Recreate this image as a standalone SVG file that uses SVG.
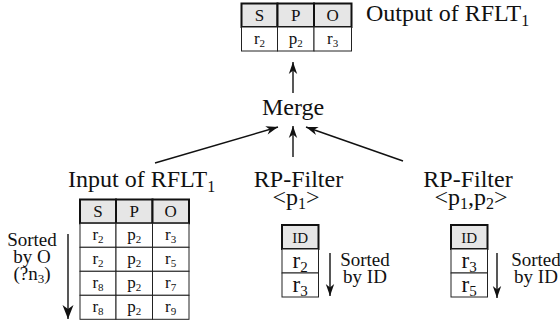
<svg xmlns="http://www.w3.org/2000/svg" width="560" height="327" viewBox="0 0 560 327">
  <style>
    text { font-family: "Liberation Serif", "Times New Roman", serif; fill: #111; }
    .lbl { font-size: 24px; }
    .mid { text-anchor: middle; }
    .cell { font-size: 17px; text-anchor: middle; }
    .big { font-size: 23px; text-anchor: middle; }
    .small { font-size: 15px; text-anchor: middle; }
    .note { font-size: 19px; text-anchor: middle; }
    .hdr { fill: #e6e6e6; stroke: #111; stroke-width: 2; }
    .row { fill: #fff; stroke: #222; stroke-width: 1; }
    .edge { stroke: #111; stroke-width: 1.4; fill: none; }
  </style>
  <defs>
    <marker id="head" viewBox="-13 -5 14 10" refX="0" refY="0" markerWidth="14" markerHeight="10" markerUnits="userSpaceOnUse" orient="auto">
      <path d="M0,0 L-12,-4.2 L-8.5,0 L-12,4.2 Z" fill="#111"/>
    </marker>
    <marker id="headBig" viewBox="-15 -6 16 12" refX="0" refY="0" markerWidth="16" markerHeight="12" markerUnits="userSpaceOnUse" orient="auto">
      <path d="M0,0 L-14,-5.5 L-10,0 L-14,5.5 Z" fill="#111"/>
    </marker>
  </defs>

  <!-- merged output triples -->
  <g id="output">
    <rect class="hdr" x="241.5" y="3.5" width="36" height="23.5"/>
    <rect class="hdr" x="277.5" y="3.5" width="36.5" height="23.5"/>
    <rect class="hdr" x="314" y="3.5" width="37.5" height="23.5"/>
    <rect class="row" x="241.5" y="27" width="36" height="24"/>
    <rect class="row" x="277.5" y="27" width="36.5" height="24"/>
    <rect class="row" x="314" y="27" width="37.5" height="24"/>
    <text class="cell" x="259.5" y="21">S</text>
    <text class="cell" x="295.7" y="21">P</text>
    <text class="cell" x="332.7" y="21">O</text>
    <text class="cell" x="259.5" y="44">r<tspan font-size="11" dy="3">2</tspan></text>
    <text class="cell" x="295.7" y="44">p<tspan font-size="11" dy="3">2</tspan></text>
    <text class="cell" x="332.7" y="44">r<tspan font-size="11" dy="3">3</tspan></text>
    <text class="lbl" x="366" y="21">Output of RFLT<tspan font-size="16" dy="5">1</tspan></text>
  </g>

  <g id="merge">
    <text class="lbl mid" x="293" y="115">Merge</text>
  </g>

  <!-- input triples, sorted by object -->
  <g id="input">
    <text class="lbl" x="68" y="187">Input of RFLT<tspan font-size="16" dy="5">1</tspan></text>
    <rect class="hdr" x="80" y="199.5" width="36" height="23.8"/>
    <rect class="hdr" x="116" y="199.5" width="36.5" height="23.8"/>
    <rect class="hdr" x="152.5" y="199.5" width="36.5" height="23.8"/>
    <g>
      <rect class="row" x="80" y="223.3" width="36" height="24"/>
      <rect class="row" x="116" y="223.3" width="36.5" height="24"/>
      <rect class="row" x="152.5" y="223.3" width="36.5" height="24"/>
      <rect class="row" x="80" y="247.3" width="36" height="24"/>
      <rect class="row" x="116" y="247.3" width="36.5" height="24"/>
      <rect class="row" x="152.5" y="247.3" width="36.5" height="24"/>
      <rect class="row" x="80" y="271.3" width="36" height="24"/>
      <rect class="row" x="116" y="271.3" width="36.5" height="24"/>
      <rect class="row" x="152.5" y="271.3" width="36.5" height="24"/>
      <rect class="row" x="80" y="295.3" width="36" height="24"/>
      <rect class="row" x="116" y="295.3" width="36.5" height="24"/>
      <rect class="row" x="152.5" y="295.3" width="36.5" height="24"/>
    </g>
    <text class="cell" x="98" y="217">S</text>
    <text class="cell" x="134.2" y="217">P</text>
    <text class="cell" x="170.7" y="217">O</text>
    <text class="cell" x="98" y="240">r<tspan font-size="11" dy="3">2</tspan></text>
    <text class="cell" x="134.2" y="240">p<tspan font-size="11" dy="3">2</tspan></text>
    <text class="cell" x="170.7" y="240">r<tspan font-size="11" dy="3">3</tspan></text>
    <text class="cell" x="98" y="264">r<tspan font-size="11" dy="3">2</tspan></text>
    <text class="cell" x="134.2" y="264">p<tspan font-size="11" dy="3">2</tspan></text>
    <text class="cell" x="170.7" y="264">r<tspan font-size="11" dy="3">5</tspan></text>
    <text class="cell" x="98" y="288">r<tspan font-size="11" dy="3">8</tspan></text>
    <text class="cell" x="134.2" y="288">p<tspan font-size="11" dy="3">2</tspan></text>
    <text class="cell" x="170.7" y="288">r<tspan font-size="11" dy="3">7</tspan></text>
    <text class="cell" x="98" y="312">r<tspan font-size="11" dy="3">8</tspan></text>
    <text class="cell" x="134.2" y="312">p<tspan font-size="11" dy="3">2</tspan></text>
    <text class="cell" x="170.7" y="312">r<tspan font-size="11" dy="3">9</tspan></text>
    <text class="note" x="32" y="246">Sorted</text>
    <text class="note" x="32" y="263">by O</text>
    <text class="note" x="32" y="280">(?n<tspan font-size="13" dy="3">3</tspan><tspan dy="-3">)</tspan></text>
    <line class="edge" x1="68" y1="234" x2="68" y2="319" stroke-width="1.6" marker-end="url(#headBig)"/>
  </g>

  <!-- filter on p1 -->
  <g id="filter1">
    <text class="lbl mid" x="298.5" y="187">RP-Filter</text>
    <text class="lbl mid" x="296" y="205">&lt;p<tspan font-size="16" dy="4">1</tspan><tspan dy="-4">&gt;</tspan></text>
    <rect class="hdr" x="282" y="225" width="36.5" height="24"/>
    <rect class="row" x="282" y="249" width="36.5" height="24" stroke-width="2"/>
    <rect class="row" x="282" y="273" width="36.5" height="24" stroke-width="2"/>
    <text class="small" x="300.2" y="243">ID</text>
    <text class="big" x="300.2" y="268">r<tspan font-size="15" dy="4">2</tspan></text>
    <text class="big" x="300.2" y="292">r<tspan font-size="15" dy="4">3</tspan></text>
    <line class="edge" x1="330" y1="253" x2="330" y2="296" marker-end="url(#head)"/>
    <text class="note" x="365" y="266">Sorted</text>
    <text class="note" x="365" y="283">by ID</text>
  </g>

  <!-- filter on p1,p2 -->
  <g id="filter2">
    <text class="lbl mid" x="468" y="187">RP-Filter</text>
    <text class="lbl mid" x="471" y="205">&lt;p<tspan font-size="16" dy="4">1</tspan><tspan dy="-4">,p</tspan><tspan font-size="16" dy="4">2</tspan><tspan dy="-4">&gt;</tspan></text>
    <rect class="hdr" x="451" y="225" width="36.5" height="24"/>
    <rect class="row" x="451" y="249" width="36.5" height="24" stroke-width="2"/>
    <rect class="row" x="451" y="273" width="36.5" height="24" stroke-width="2"/>
    <text class="small" x="469.2" y="243">ID</text>
    <text class="big" x="469.2" y="268">r<tspan font-size="15" dy="4">3</tspan></text>
    <text class="big" x="469.2" y="292">r<tspan font-size="15" dy="4">5</tspan></text>
    <line class="edge" x1="497" y1="253" x2="497" y2="298" marker-end="url(#head)"/>
    <text class="note" x="536" y="266">Sorted</text>
    <text class="note" x="536" y="283">by ID</text>
  </g>

  <!-- data flow into and out of the merge -->
  <g id="connectors">
    <line class="edge" x1="293" y1="93" x2="293" y2="62" marker-end="url(#head)"/>
    <line class="edge" x1="155" y1="163" x2="278" y2="127" marker-end="url(#head)"/>
    <line class="edge" x1="293" y1="157" x2="293" y2="126" marker-end="url(#head)"/>
    <line class="edge" x1="403" y1="161" x2="306" y2="127" marker-end="url(#head)"/>
  </g>
</svg>
